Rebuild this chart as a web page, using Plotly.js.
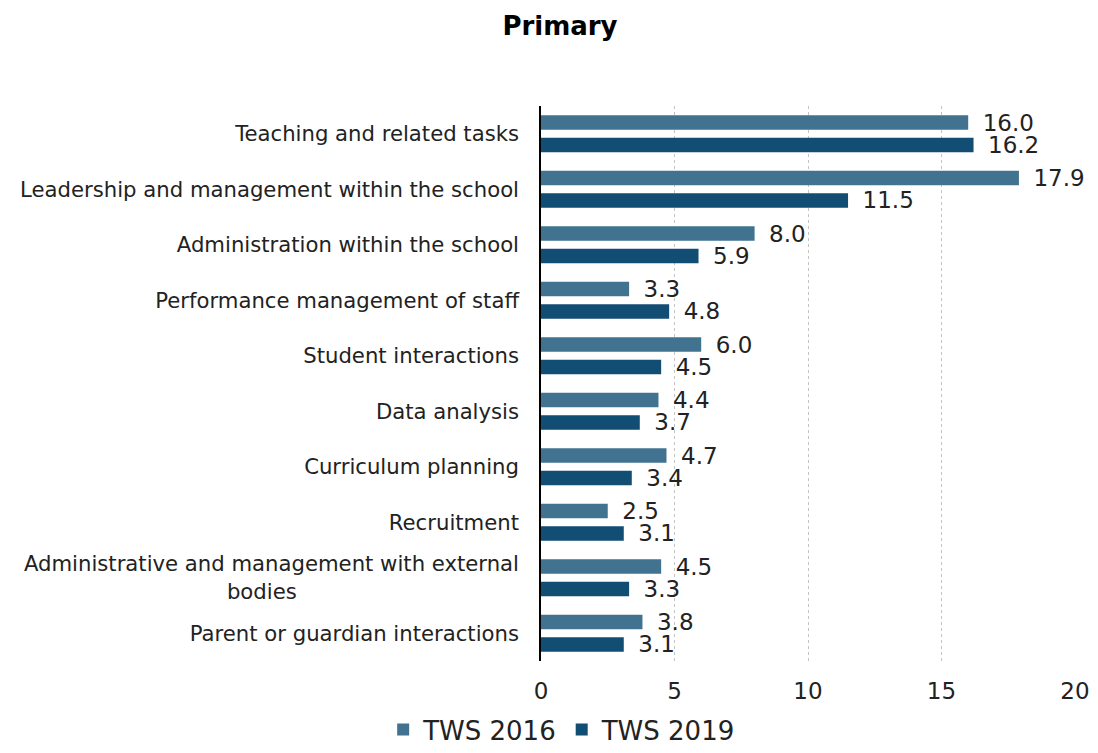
<!DOCTYPE html>
<html>
<head>
<meta charset="utf-8">
<script src="https://cdn.plot.ly/plotly-3.0.1.min.js"></script>
<style>body{margin:0;padding:0;background:#fff}#chart{width:1098px;height:753px}</style>
</head>
<body>
<div id="chart"></div>
<script>
const categories = [
  "Teaching and related tasks",
  "Leadership and management within the school",
  "Administration within the school",
  "Performance management of staff",
  "Student interactions",
  "Data analysis",
  "Curriculum planning",
  "Recruitment",
  "Administrative and management with external<br>bodies" + "\u00a0".repeat(33),
  "Parent or guardian interactions"
];
const tws2016 = [16.0, 17.9, 8.0, 3.3, 6.0, 4.4, 4.7, 2.5, 4.5, 3.8];
const tws2019 = [16.2, 11.5, 5.9, 4.8, 4.5, 3.7, 3.4, 3.1, 3.3, 3.1];
const seriesNames = ["TWS 2016", "TWS 2019"];
const xTicks = [0, 5, 10, 15, 20];

const font = "DejaVu Sans, Verdana, sans-serif";
function trace(vals, name, color) {
  return {
    type: "bar", orientation: "h", y: categories, x: vals, name: name,
    marker: {color: color},
    text: vals.map(v => "\u2002" + v.toFixed(1)), textposition: "outside",
    textfont: {family: font, size: 23, color: "#222"},
    constraintext: "none", cliponaxis: false, hoverinfo: "x+y"
  };
}
const data = [trace(tws2016, seriesNames[0], "#417390"), trace(tws2019, seriesNames[1], "#124d73")];
const layout = {
  width: 1098, height: 753,
  margin: {l: 541, r: 23, t: 106, b: 92},
  paper_bgcolor: "#fff", plot_bgcolor: "#fff",
  font: {family: font, color: "#222"},
  title: {text: "<b>Primary</b>", font: {family: font, size: 26, color: "#000"},
          x: 0.51, xref: "container", xanchor: "center", y: 0.966, yref: "container", yanchor: "middle"},
  barmode: "group", bargap: 0.19, bargroupgap: 0.355,
  xaxis: {range: [0, 20], tickvals: xTicks, ticktext: xTicks.map(String),
          showgrid: true, gridcolor: "#c4c4c4", griddash: "dot", gridwidth: 1,
          zeroline: false, showline: false, ticks: "", ticklabelstandoff: 14,
          tickfont: {family: font, size: 23, color: "#222"}},
  yaxis: {autorange: "reversed", showline: true, linecolor: "#000", linewidth: 1.5,
          ticks: "", ticklabelstandoff: 16, showgrid: false,
          tickfont: {family: font, size: 21.2, color: "#222"}},
  showlegend: true,
  legend: {orientation: "h", x: 0.512, xref: "container", xanchor: "center",
           y: 0, yref: "container", yanchor: "bottom",
           font: {family: font, size: 26, color: "#222"}, itemwidth: 30, traceorder: "normal"}
};
Plotly.newPlot("chart", data, layout, {displayModeBar: false});
</script>
</body>
</html>
